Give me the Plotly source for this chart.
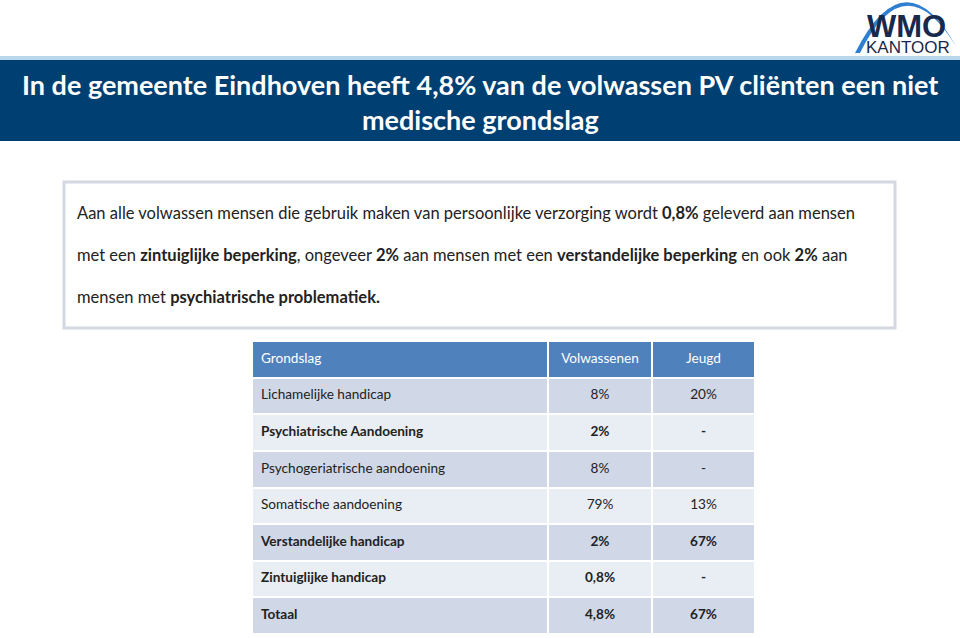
import plotly.graph_objects as go

W, H = 960, 638

title_lines = ["In de gemeente Eindhoven heeft 4,8% van de volwassen PV cliënten een niet",
               "medische grondslag"]
intro_lines = [
    "Aan alle volwassen mensen die gebruik maken van persoonlijke verzorging wordt <b>0,8%</b> geleverd aan mensen",
    "met een <b>zintuiglijke beperking</b>, ongeveer <b>2%</b> aan mensen met een <b>verstandelijke beperking</b> en ook <b>2%</b> aan",
    "mensen met <b>psychiatrische problematiek.</b>",
]

header = ["Grondslag", "Volwassenen", "Jeugd"]
grondslag = ["Lichamelijke handicap", "Psychiatrische Aandoening", "Psychogeriatrische aandoening",
             "Somatische aandoening", "Verstandelijke handicap", "Zintuiglijke handicap", "Totaal"]
volwassenen = ["8%", "2%", "8%", "79%", "2%", "0,8%", "4,8%"]
jeugd = ["20%", "-", "-", "13%", "67%", "-", "67%"]
bold_rows = [False, True, False, False, True, True, True]

FONT = "Lato"

def b(t, flag):
    return f"<b>{t}</b>" if flag else t

n = len(grondslag)
col_edges = [0, 296, 400, 503]          # relative column widths
row_edges = list(range(n + 2))          # header + rows
# 0 = header, 1 = dark row, 2 = light row
zcode = [[0, 0, 0]] + [[1 + (i % 2)] * 3 for i in range(n)]

fig = go.Figure()

# invisible pixel axes for decoration
fig.add_trace(go.Scatter(x=[0, W], y=[0, H], mode="markers", marker=dict(opacity=0),
                         hoverinfo="skip", showlegend=False))

# table cells
fig.add_trace(go.Heatmap(
    x=col_edges, y=row_edges, z=zcode, xaxis="x2", yaxis="y2",
    zmin=0, zmax=2, showscale=False, hoverinfo="skip",
    colorscale=[[0, "#4f81bd"], [0.5, "#d0d7e7"], [1, "#e9edf4"]],
    xgap=2, ygap=2,
))

rows_y = [r + 0.5 for r in range(n + 1)]
first_col = [header[0]] + [b(t, f) for t, f in zip(grondslag, bold_rows)]
second_col = [header[1]] + [b(t, f) for t, f in zip(volwassenen, bold_rows)]
third_col = [header[2]] + [b(t, f) for t, f in zip(jeugd, bold_rows)]
colors = ["white"] + ["#222222"] * n

fig.add_trace(go.Scatter(
    x=[9] * (n + 1), y=rows_y, text=first_col, mode="text", textposition="middle right",
    textfont=dict(family=FONT, size=13.6, color=colors), xaxis="x2", yaxis="y2",
    hoverinfo="skip", showlegend=False))
for vals, lo, hi in [(second_col, col_edges[1], col_edges[2]), (third_col, col_edges[2], col_edges[3])]:
    fig.add_trace(go.Scatter(
        x=[(lo + hi) / 2] * (n + 1), y=rows_y, text=vals, mode="text", textposition="middle center",
        textfont=dict(family=FONT, size=13.6, color=colors), xaxis="x2", yaxis="y2",
        hoverinfo="skip", showlegend=False))

shapes = []
shapes.append(dict(type="rect", x0=0, x1=W, y0=56, y1=60, fillcolor="#b8d8ea", line=dict(width=0), layer="below"))
shapes.append(dict(type="rect", x0=0, x1=W, y0=60, y1=141, fillcolor="#003f72", line=dict(width=0), layer="below"))
shapes.append(dict(type="rect", x0=64, x1=895, y0=182, y1=328, fillcolor="white",
                   line=dict(color="#d3d8e3", width=3), layer="below"))
shapes.append(dict(type="path", path="M 855 53 Q 905 -46 957 48 Q 905 -39 860 53 Z",
                   fillcolor="#2f7fd0", line=dict(width=0), layer="below"))

annotations = []
for i, t in enumerate(title_lines):
    annotations.append(dict(x=480, y=84 + i * 35, xref="x", yref="y", text=f"<b>{t}</b>", showarrow=False,
                            font=dict(family=FONT, size=27, color="white"), xanchor="center", yanchor="middle"))
for i, t in enumerate(intro_lines):
    annotations.append(dict(x=75, y=213 + i * 42, xref="x", yref="y", text=t, showarrow=False,
                            font=dict(family=FONT, size=16.5, color="#222222"), xanchor="left", yanchor="middle"))
annotations.append(dict(x=906, y=26, xref="x", yref="y", text="<b>WMO</b>", showarrow=False,
                        font=dict(family="Liberation Sans Narrow, Liberation Sans", size=31, color="#17294d"),
                        xanchor="center", yanchor="middle"))
annotations.append(dict(x=908, y=47, xref="x", yref="y", text="KANTOOR", showarrow=False,
                        font=dict(family="Liberation Sans", size=17, color="#17294d"),
                        xanchor="center", yanchor="middle"))

fig.update_layout(
    width=W, height=H, margin=dict(l=0, r=0, t=0, b=0),
    paper_bgcolor="white", plot_bgcolor="rgba(0,0,0,0)",
    xaxis=dict(range=[0, W], visible=False, fixedrange=True),
    yaxis=dict(range=[H, 0], visible=False, fixedrange=True),
    xaxis2=dict(domain=[252 / W, 755 / W], range=[0, 503], visible=False, fixedrange=True, anchor="y2"),
    yaxis2=dict(domain=[1 - 634 / H, 1 - 341 / H], range=[n + 1, 0], visible=False, fixedrange=True, anchor="x2"),
    shapes=shapes, annotations=annotations, showlegend=False,
)

fig.write_html("out.html", config={"displayModeBar": False},
               post_script="document.body.style.margin='0px';")
